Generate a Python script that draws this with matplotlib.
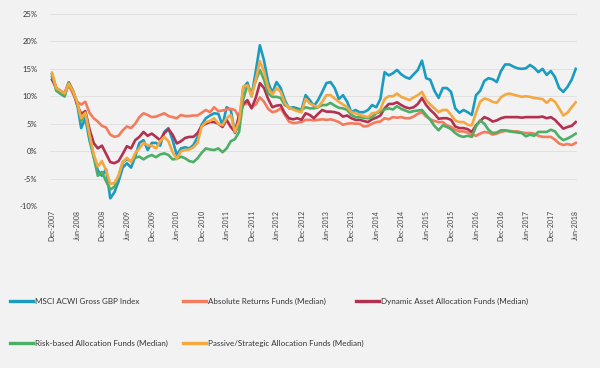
import matplotlib
matplotlib.use("Agg")
import matplotlib.pyplot as plt
from matplotlib.lines import Line2D
import numpy as np
import pandas as pd

plt.rcParams['font.family'] = ['Lato', 'DejaVu Sans']

dates = pd.date_range('2007-12-31', periods=127, freq='ME')

msci = [13.5, 11.5, 10.5, 10.0, 12.5, 11.0, 8.8, 4.2, 6.0, 2.0,
        -1.0, -3.5, -4.5, -3.3, -8.6, -7.5, -5.5, -3.0, -2.2, -3.0,
        -1.0, 1.5, 2.0, 0.2, 1.5, 1.5, 1.0, 3.5, 4.2, 2.0,
        -0.7, 0.5, 0.7, 0.5, 1.1, 2.6, 4.8, 6.0, 6.5, 6.9,
        6.8, 4.7, 8.0, 7.5, 3.3, 5.0, 11.5, 12.5, 10.0, 14.5,
        19.3, 16.5, 12.5, 10.6, 12.6, 11.5, 9.3, 7.8, 8.0, 7.8,
        7.5, 10.2, 9.3, 8.2, 9.3, 10.8, 12.4, 12.6, 11.5, 9.5,
        10.2, 9.0, 7.1, 7.5, 7.1, 7.1, 7.5, 8.4, 8.0, 9.5,
        14.4, 13.8, 14.2, 14.8, 14.0, 13.5, 13.2, 14.0, 14.8, 16.5,
        13.3, 13.0, 11.0, 9.7, 11.5, 11.5, 10.8, 7.8, 7.0, 7.5,
        7.1, 6.6, 10.2, 11.0, 12.8, 13.3, 13.1, 12.6, 14.6, 15.8,
        15.8, 15.4, 15.1, 15.0, 15.1, 15.7, 15.2, 14.4, 15.0, 13.9,
        14.6, 13.5, 11.5, 10.8, 11.7, 13.0, 15.0]

absolute = [14.0, 11.5, 10.8, 10.5, 12.0, 10.5, 9.0, 8.5, 9.0, 7.0,
            6.0, 5.4, 4.6, 4.3, 3.0, 2.6, 2.8, 3.8, 4.5, 4.2,
            5.0, 6.2, 6.9, 6.6, 6.2, 6.3, 6.6, 6.9, 6.4, 6.2,
            6.0, 6.6, 6.4, 6.4, 6.5, 6.5, 7.0, 7.5, 7.1, 8.0,
            7.3, 7.4, 7.6, 7.7, 7.5, 6.2, 8.4, 8.8, 8.0, 8.5,
            9.8, 9.0, 7.7, 7.1, 7.3, 7.8, 6.6, 5.4, 5.1, 5.2,
            5.3, 5.7, 5.7, 5.6, 5.7, 5.8, 5.7, 5.8, 5.6, 5.3,
            4.8, 5.0, 5.1, 5.0, 5.0, 4.5, 4.6, 5.0, 5.3, 5.4,
            6.0, 5.8, 6.2, 6.1, 6.2, 6.0, 6.0, 6.3, 6.8, 7.1,
            6.3, 5.8, 5.5, 5.3, 5.3, 4.7, 4.4, 3.9, 3.6, 3.6,
            3.4, 3.0, 2.8, 3.2, 3.5, 3.4, 3.0, 3.2, 3.5, 3.7,
            3.7, 3.6, 3.6, 3.4, 3.3, 3.3, 3.2, 2.8, 2.6, 2.6,
            2.6, 2.1, 1.4, 1.1, 1.3, 1.1, 1.5]

dynamic = [13.0, 11.5, 11.0, 10.5, 12.5, 11.0, 8.5, 6.8, 7.3, 4.0,
           1.5, 0.5, 1.0, -0.5, -2.0, -2.2, -1.8, -0.5, 0.9, 0.5,
           2.0, 2.6, 3.5, 2.8, 3.2, 2.6, 2.0, 3.3, 4.0, 3.0,
           1.4, 1.8, 2.4, 2.6, 2.6, 3.3, 4.6, 5.0, 5.3, 5.3,
           5.0, 4.4, 5.7, 4.4, 3.5, 6.6, 8.6, 9.3, 7.8, 9.7,
           12.4, 11.5, 9.5, 8.0, 8.3, 8.4, 6.9, 6.0, 5.8, 6.0,
           5.7, 6.9, 6.6, 6.0, 6.8, 7.5, 7.2, 7.2, 7.1, 6.9,
           6.3, 6.5, 6.0, 5.7, 5.7, 5.5, 5.3, 5.8, 6.1, 6.5,
           7.8, 8.6, 8.6, 8.9, 8.4, 8.0, 7.8, 8.0, 8.6, 9.7,
           8.4, 7.5, 6.8, 5.9, 6.0, 6.0, 5.7, 4.5, 4.2, 4.2,
           4.0, 3.5, 4.7, 5.5, 6.2, 5.9, 5.4, 5.6, 6.0, 6.2,
           6.2, 6.2, 6.2, 6.1, 6.2, 6.2, 6.2, 6.2, 6.3, 6.0,
           6.2, 5.7, 4.9, 4.1, 4.4, 4.6, 5.3]

risk = [14.0, 11.0, 10.5, 10.0, 12.5, 11.0, 9.0, 5.5, 7.0, 3.0,
        -1.0, -4.5, -3.8, -5.5, -7.0, -6.5, -4.5, -2.0, -1.5, -1.8,
        -1.2, -1.0, -1.5, -1.0, -0.7, -1.1, -0.6, -0.4, -0.7, -1.5,
        -1.4, -1.0, -1.3, -1.8, -2.0, -1.3, -0.3, 0.5, 0.3, 0.2,
        0.5, -0.2, 0.5, 1.8, 2.2, 3.5, 9.5, 12.0, 10.5, 12.8,
        14.8, 13.0, 10.5, 9.9, 9.9, 9.7, 8.4, 8.0, 7.7, 7.5,
        7.5, 8.0, 7.8, 7.8, 8.0, 8.4, 8.4, 8.8, 8.3, 7.9,
        7.8, 7.5, 6.6, 6.2, 6.2, 6.1, 6.0, 6.2, 6.9, 7.2,
        7.6, 7.8, 7.6, 8.2, 7.7, 7.4, 7.1, 7.3, 7.4, 7.5,
        6.6, 5.7, 4.6, 3.8, 4.7, 4.4, 4.0, 3.3, 2.8, 2.6,
        2.8, 2.6, 4.5, 5.6, 5.0, 3.9, 3.3, 3.4, 3.8, 3.8,
        3.6, 3.5, 3.4, 3.3, 2.7, 3.0, 2.8, 3.5, 3.5, 3.5,
        3.9, 3.6, 2.6, 2.0, 2.3, 2.7, 3.2]

passive = [14.3, 11.5, 11.0, 10.5, 12.3, 11.0, 9.0, 6.0, 7.0, 3.0,
           -0.5, -2.8, -1.8, -3.5, -6.0, -5.8, -4.5, -2.0, -1.2, -2.0,
           -0.4, 0.5, 1.5, 1.1, 1.0, 0.5, 1.8, 2.6, 1.8, -0.2,
           -1.4, 0.0, 0.2, 0.3, 0.7, 1.5, 4.5, 5.3, 5.5, 6.0,
           5.0, 4.7, 6.0, 6.6, 3.5, 5.5, 11.8, 12.0, 10.0, 13.0,
           16.4, 14.5, 11.5, 10.3, 11.5, 10.8, 8.8, 7.9, 7.6, 7.3,
           7.1, 9.5, 8.7, 8.3, 8.0, 9.0, 10.2, 10.2, 9.6, 9.0,
           8.5, 8.0, 7.1, 6.9, 6.6, 6.4, 6.2, 6.9, 7.0, 7.6,
           9.5, 10.0, 10.0, 10.5, 9.9, 9.6, 9.3, 9.8, 10.2, 10.8,
           9.3, 8.5, 7.8, 7.1, 7.5, 7.5, 6.6, 5.6, 5.3, 5.3,
           4.8, 4.7, 7.0, 9.0, 9.6, 9.4, 9.0, 8.8, 9.8, 10.3,
           10.5, 10.3, 10.1, 9.9, 10.0, 9.9, 9.7, 9.6, 9.5, 8.8,
           9.5, 9.0, 7.8, 6.5, 7.0, 8.0, 8.9]

series_names = ["MSCI ACWI Gross GBP Index",
                "Absolute Returns Funds (Median)",
                "Dynamic Asset Allocation Funds (Median)",
                "Risk-based Allocation Funds (Median)",
                "Passive/Strategic Allocation Funds (Median)"]
colors = ["#1a9cc2", "#f47b5c", "#b3304f", "#4dae66", "#f5a840"]
y_ticks = [-10, -5, 0, 5, 10, 15, 20, 25]

bg = "#f2f2f2"
fig = plt.figure(figsize=(6.0, 3.68), dpi=100, facecolor=bg)
ax = fig.add_axes([50/600, 1-206/368, (577-50)/600, (206-14)/368], facecolor=bg)

x = np.arange(len(dates))
data = [msci, absolute, dynamic, risk, passive]
handles = []
for vals, c, name in zip(data, colors, series_names):
    ln, = ax.plot(x, vals, color=c, lw=1.9, solid_joinstyle='round', label=name, zorder=3)
    handles.append(ln)

ax.set_ylim(-10, 25)
ax.set_xlim(-0.5, 126.3)
ax.set_yticks(y_ticks)
ax.set_yticklabels([f"{v}%" for v in y_ticks], fontsize=5.5, color="#333333")
tick_idx = x[::6]
ax.set_xticks(tick_idx)
ax.set_xticklabels([d.strftime('%b-%Y') for d in dates[::6]], rotation=90,
                   fontsize=5, color="#444444", va='top', ha='center')
ax.tick_params(axis='both', length=0)
ax.tick_params(axis='y', pad=9)
ax.tick_params(axis='x', pad=3)
ax.grid(axis='y', color="#dedede", lw=0.6, zorder=0)
ax.grid(axis='x', visible=False)
for s in ax.spines.values():
    s.set_visible(False)

positions = [(10/600, 1-301/368), (183/600, 1-301/368), (356/600, 1-301/368),
             (10/600, 1-343/368), (183/600, 1-343/368)]
for h, name, pos in zip(handles, series_names, positions):
    proxy = Line2D([0], [0], color=h.get_color(), lw=2.4)
    fig.legend(handles=[proxy], labels=[name], loc='center left', bbox_to_anchor=pos,
               frameon=False, fontsize=5.8, handlelength=2.8, handletextpad=0.3,
               borderpad=0, borderaxespad=0, labelcolor="#333333")

fig.savefig("out.png", dpi=100, facecolor=bg)
